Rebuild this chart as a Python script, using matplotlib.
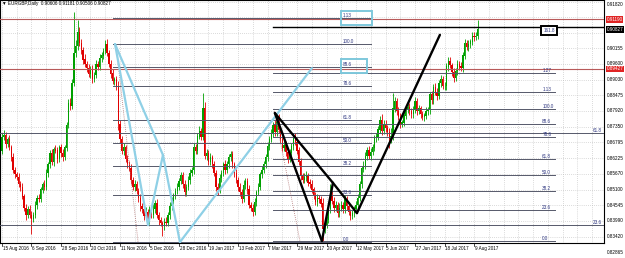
import numpy as np
import matplotlib
matplotlib.use("Agg")
import matplotlib.pyplot as plt
from matplotlib.patches import Rectangle
from matplotlib.transforms import blended_transform_factory

# ---- daily EURGBP candles ----
first_open = 0.8650
closes = [
    # 15 Aug 2016
    0.8697, 0.8706, 0.8672, 0.8690, 0.8662, 0.8625, 0.8580, 0.8565, 0.8555, 0.8530, 0.8520, 0.8485, 0.8445, 0.8418, 0.8440, 0.8420,
    # 6 Sep 2016
    0.8405, 0.8420, 0.8455, 0.8480, 0.8475, 0.8510, 0.8530, 0.8520, 0.8570, 0.8600, 0.8640, 0.8610, 0.8655, 0.8650, 0.8620, 0.8660,
    # 28 Sep 2016
    0.8640, 0.8625, 0.8660, 0.8740, 0.8820, 0.8810, 0.8890, 0.9000, 0.9025, 0.9075, 0.9035, 0.9010, 0.8975, 0.8960, 0.8945, 0.8925,
    # 20 Oct 2016
    0.8940, 0.8905, 0.8920, 0.8960, 0.8950, 0.8980, 0.8990, 0.9005, 0.9030, 0.9000, 0.8960, 0.8925, 0.8900, 0.8905, 0.8880, 0.8745,
    # 11 Nov 2016
    0.8690, 0.8650, 0.8660, 0.8620, 0.8600, 0.8585, 0.8545, 0.8520, 0.8530, 0.8505, 0.8480, 0.8450, 0.8440, 0.8415, 0.8430, 0.8400,
    # 5 Dec 2016
    0.8435, 0.8420, 0.8440, 0.8460, 0.8420, 0.8400, 0.8390, 0.8380, 0.8395, 0.8390, 0.8420, 0.8450, 0.8470, 0.8490, 0.8505, 0.8520,
    # 28 Dec 2016
    0.8540, 0.8560, 0.8530, 0.8500, 0.8520, 0.8545, 0.8570, 0.8580, 0.8660, 0.8650, 0.8700, 0.8720, 0.8700, 0.8800, 0.8630, 0.8640,
    # 19 Jan 2017
    0.8610, 0.8625, 0.8600, 0.8570, 0.8520, 0.8510, 0.8550, 0.8570, 0.8600, 0.8580, 0.8600, 0.8625, 0.8635, 0.8600, 0.8570, 0.8545,
    # 13 Feb 2017
    0.8520, 0.8500, 0.8475, 0.8525, 0.8540, 0.8510, 0.8455, 0.8445, 0.8430, 0.8465, 0.8500, 0.8520, 0.8565, 0.8580, 0.8600, 0.8625,
    # 7 Mar 2017
    0.8665, 0.8690, 0.8710, 0.8740, 0.8715, 0.8770, 0.8725, 0.8690, 0.8660, 0.8670, 0.8645, 0.8620, 0.8640, 0.8665, 0.8700, 0.8680,
    # 29 Mar 2017
    0.8650, 0.8610, 0.8560, 0.8545, 0.8555, 0.8560, 0.8535, 0.8530, 0.8510, 0.8490, 0.8465, 0.8480, 0.8475, 0.8460, 0.8370, 0.8385,
    # 20 Apr 2017
    0.8400, 0.8440, 0.8490, 0.8470, 0.8445, 0.8455, 0.8425, 0.8445, 0.8455, 0.8440, 0.8475, 0.8450, 0.8430, 0.8415, 0.8425, 0.8440,
    # 12 May 2017
    0.8455, 0.8480, 0.8530, 0.8585, 0.8595, 0.8630, 0.8650, 0.8630, 0.8645, 0.8660, 0.8695, 0.8700, 0.8725, 0.8760, 0.8720, 0.8745,
    # 5 Jun 2017
    0.8730, 0.8715, 0.8690, 0.8700, 0.8800, 0.8825, 0.8790, 0.8770, 0.8745, 0.8750, 0.8775, 0.8795, 0.8805, 0.8790, 0.8780, 0.8795,
    # 27 Jun 2017
    0.8825, 0.8790, 0.8800, 0.8780, 0.8770, 0.8775, 0.8790, 0.8795, 0.8850, 0.8830, 0.8875, 0.8860, 0.8845, 0.8890, 0.8905, 0.8880,
    # 18 Jul 2017
    0.8880, 0.8950, 0.8970, 0.8955, 0.8930, 0.8910, 0.8935, 0.8960, 0.8950, 0.8945, 0.8990, 0.9035, 0.9020, 0.9030, 0.9040, 0.9060,
    # 9 Aug 2017
    0.9055, 0.90606, 0.90827,
]
# wick lengths in pips above / below the body
up_pips = [
    15, 19, 12, 10, 14, 9, 16, 11, 8, 13, 10, 12, 9, 14, 11, 15,
    12, 10, 16, 9, 14, 11, 8, 15, 13, 10, 12, 17, 9, 14, 11, 10,
    13, 16, 9, 12, 14, 18, 15, 145, 22, 43, 18, 15, 12, 20, 11, 14,
    12, 15, 10, 13, 9, 14, 11, 12, 15, 18, 10, 13, 16, 9, 12, 20,
    14, 12, 18, 10, 13, 11, 15, 9, 16, 12, 10, 14, 11, 13, 17, 10,
    15, 12, 20, 14, 18, 11, 13, 9, 12, 16, 10, 14, 12, 9, 11, 13,
    10, 14, 12, 16, 11, 13, 15, 10, 18, 12, 14, 16, 12, 55, 25, 14,
    12, 16, 10, 14, 11, 13, 15, 12, 10, 16, 13, 11, 15, 12, 10, 14,
    11, 15, 12, 18, 10, 13, 16, 11, 12, 14, 10, 13, 9, 15, 12, 11,
    14, 12, 16, 13, 20, 17, 12, 14, 11, 15, 13, 10, 16, 12, 14, 11,
    15, 12, 14, 10, 13, 16, 11, 12, 14, 10, 13, 15, 11, 12, 20, 16,
    14, 18, 40, 15, 12, 14, 10, 16, 13, 11, 15, 12, 14, 10, 13, 12,
    15, 13, 12, 10, 18, 14, 11, 16, 13, 12, 10, 14, 12, 15, 20, 13,
    14, 12, 15, 30, 55, 18, 12, 14, 16, 11, 13, 12, 10, 15, 12, 14,
    16, 12, 14, 10, 13, 11, 15, 12, 10, 14, 12, 16, 13, 11, 15, 12,
    14, 12, 16, 13, 10, 15, 12, 14, 11, 16, 13, 15, 12, 14, 10, 15,
    14, 12, 35.4,
]
down_pips = [
    12, 10, 14, 11, 9, 13, 12, 15, 10, 11, 14, 9, 12, 16, 10, 13,
    55, 12, 10, 14, 11, 9, 13, 12, 10, 15, 11, 12, 14, 10, 13, 11,
    12, 14, 10, 13, 11, 15, 12, 10, 16, 14, 12, 13, 15, 11, 14, 12,
    14, 15, 11, 12, 13, 10, 14, 12, 11, 13, 12, 15, 11, 14, 12, 20,
    14, 12, 15, 11, 13, 10, 16, 12, 14, 11, 13, 15, 12, 14, 11, 15,
    13, 12, 11, 14, 12, 15, 10, 35, 13, 12, 11, 14, 12, 10, 13, 12,
    12, 11, 14, 13, 12, 10, 14, 12, 13, 11, 12, 10, 14, 13, 12, 14,
    13, 12, 14, 11, 15, 20, 12, 13, 11, 14, 12, 13, 11, 12, 14, 13,
    14, 12, 13, 11, 12, 15, 12, 11, 13, 12, 14, 11, 12, 13, 11, 12,
    12, 14, 11, 13, 12, 12, 14, 13, 11, 12, 14, 13, 12, 11, 13, 12,
    13, 12, 14, 11, 12, 13, 11, 14, 12, 13, 11, 12, 14, 12, 50, 14,
    12, 11, 13, 12, 14, 11, 13, 12, 11, 14, 12, 13, 12, 14, 11, 12,
    12, 14, 11, 13, 12, 11, 14, 12, 13, 11, 12, 14, 11, 12, 13, 12,
    13, 12, 30, 12, 14, 11, 13, 12, 14, 11, 12, 13, 11, 12, 13, 12,
    12, 13, 11, 14, 12, 13, 11, 12, 14, 12, 13, 11, 14, 12, 13, 11,
    12, 13, 14, 11, 12, 13, 11, 14, 12, 11, 13, 12, 11, 14, 12, 13,
    12, 11, 10,
]

date_labels = ["15 Aug 2016", "6 Sep 2016", "28 Sep 2016", "20 Oct 2016", "11 Nov 2016",
               "5 Dec 2016", "28 Dec 2016", "19 Jan 2017", "13 Feb 2017", "7 Mar 2017",
               "29 Mar 2017", "20 Apr 2017", "12 May 2017", "5 Jun 2017", "27 Jun 2017",
               "18 Jul 2017", "9 Aug 2017"]
bars_per_label = 16

price_ticks = [0.91820, 0.91265, 0.90710, 0.90155, 0.89600, 0.89030, 0.88475, 0.87920,
               0.87350, 0.86795, 0.86225, 0.85670, 0.85100, 0.84545, 0.83990, 0.83420, 0.82865]
hidden_ticks = [0.91265, 0.90710]

hlines_red = [0.91190, 0.89427]
bid = 0.90827
header = "\u25bc EURGBP,Daily  0.90606 0.91181 0.90506 0.90827"

# harmonic patterns (bar index, price)
blue_pts = {"X": (61.3, 0.9031), "A": (79.2, 0.8383), "B": (87.3, 0.8634),
            "C": (96.5, 0.8322), "D": (168.1, 0.8945)}
blue_legs = [("X", "A"), ("A", "B"), ("X", "B"), ("B", "C"), ("C", "D")]
black_pts = {"X": (148.0, 0.8784), "A": (173.5, 0.8326), "B": (179.5, 0.8534),
             "C": (192.5, 0.8426), "D": (237.5, 0.9064)}
black_legs = [("X", "A"), ("A", "B"), ("X", "B"), ("B", "C"), ("C", "D")]

# fibonacci retracements: (bar, price) of 100% and 0% anchors, line span, label bar
fib_a = dict(p100=(61.8, 0.9031), p0=(73.8, 0.8322), x0=60.2, x1=200, xlab=185,
             levels=[0.0, 0.236, 0.382, 0.5, 0.618, 0.786, 0.886, 1.0, 1.13],
             labels=["0.0", "23.6", "38.2", "50.0", "61.8", "78.6", "88.6", "100.0", "1.13"])
fib_b = dict(p100=(147.5, 0.8799), p0=(161.6, 0.8326), x0=147.0, x1=300, xlab=293,
             levels=[0.0, 0.236, 0.382, 0.5, 0.618, 0.786, 0.886, 1.0, 1.13, 1.27],
             labels=["0.0", "23.6", "38.2", "50.0", "61.8", "78.6", "88.6", "100.0", "1.13", "1.27"])
fib_b_ext = 1.618
far_levels = [0.8713, 0.8383]
far_labels = ["61.8", "23.6"]

cyan_boxes = [(183.8, 200.6, 0.9099, 0.9149), (183.8, 198.0, 0.8927, 0.8978)]
black_box = (292.3, 301.0, 0.9063, 0.9096)

# ---- figure ----
W, H = 625, 258
fig = plt.figure(figsize=(W / 100, H / 100), dpi=100)
fig.patch.set_facecolor("white")
ax = fig.add_axes([0, 15 / H, 604 / W, 243 / H])
ax.set_xlim(-1.08, 326.5)
ax.set_ylim(0.83189, 0.91888)
ax.set_xticks([])
ax.set_yticks([])
for s in ax.spines.values():
    s.set_color("black")
    s.set_linewidth(0.8)

fs = 3.3
fnt = "Liberation Sans"
grid_kw = dict(color="#b8b8b8", lw=0.5, linestyle=(0, (1, 2)), zorder=0)

# grid
for p in price_ticks:
    ax.axhline(p, **grid_kw)
for k in range(0, 330, 8):
    ax.axvline(k, **grid_kw)

# candles
closes = np.array(closes)
opens = np.concatenate([[first_open], closes[:-1]])
highs = np.maximum(opens, closes) + np.array(up_pips) / 10000
lows = np.minimum(opens, closes) - np.array(down_pips) / 10000
idx = np.arange(len(closes))
cols = np.where(closes >= opens, "#00a000", "#e00000")
ax.vlines(idx, lows, highs, colors=cols, lw=0.6, zorder=2)
ax.bar(idx, np.abs(closes - opens) + 0.00008, bottom=np.minimum(opens, closes),
       width=0.7, color=cols, linewidth=0, zorder=3)

# horizontal lines
for p in hlines_red:
    ax.axhline(p, color="#b85a5a", lw=0.8, zorder=4)

fib_col = "#55586a"
lab_col = "#2e3680"


def draw_fib(f, ext=None):
    (xa, pa), (xb, pb) = f["p100"], f["p0"]
    ax.plot([xa, xb], [pa, pb], color="#b07070", lw=0.6, linestyle=(0, (1, 1.5)), zorder=4)
    for lv, lab in zip(f["levels"], f["labels"]):
        p = pb + lv * (pa - pb)
        ax.plot([f["x0"], f["x1"]], [p, p], color=fib_col, lw=0.7, zorder=4)
        ax.text(f["xlab"], p, lab, fontsize=fs, family=fnt, color=lab_col,
                ha="left", va="bottom", zorder=6)
    if ext is not None:
        p = pb + ext * (pa - pb)
        ax.plot([f["x0"], f["x1"] + 26], [p, p], color="black", lw=1.0, zorder=4)


draw_fib(fib_a)
draw_fib(fib_b, fib_b_ext)

for p, lab in zip(far_levels, far_labels):
    ax.axhline(p, color=fib_col, lw=0.7, zorder=4)
    ax.text(325.5, p, lab, fontsize=fs, family=fnt, color=lab_col, ha="right", va="bottom", zorder=6)

# boxes around selected levels
for x0, x1, p0, p1 in cyan_boxes:
    ax.add_patch(Rectangle((x0, p0), x1 - x0, p1 - p0, fill=False,
                           edgecolor="#7ec8dc", lw=1.4, zorder=7))
bx0, bx1, bp0, bp1 = black_box
ax.add_patch(Rectangle((bx0, bp0), bx1 - bx0, bp1 - bp0, facecolor="white",
                       edgecolor="black", lw=1.4, zorder=7))
ax.text((bx0 + bx1) / 2, (bp0 + bp1) / 2, "161.8", fontsize=fs, family=fnt,
        color=lab_col, ha="center", va="center", zorder=8)

# patterns
for a, b in blue_legs:
    (x1, y1), (x2, y2) = blue_pts[a], blue_pts[b]
    ax.plot([x1, x2], [y1, y2], color="#8fd0e6", lw=1.6, zorder=5, solid_capstyle="round")
for a, b in black_legs:
    (x1, y1), (x2, y2) = black_pts[a], black_pts[b]
    ax.plot([x1, x2], [y1, y2], color="black", lw=1.7, zorder=5, solid_capstyle="round")

# header
ax.text(0.004, 0.995, header, transform=ax.transAxes, fontsize=fs, family=fnt,
        color="black", ha="left", va="top", zorder=9)

# price axis
tr_y = blended_transform_factory(ax.transAxes, ax.transData)
for p in price_ticks:
    if p in hidden_ticks:
        continue
    va = "top" if p > 0.9175 else "center"
    ax.text(1.004, p, f"{p:.5f}", transform=tr_y, fontsize=fs, family=fnt,
            color="black", ha="left", va=va, clip_on=False)
for p in hlines_red:
    ax.text(1.004, p, f"{p:.5f}", transform=tr_y, fontsize=fs, family=fnt, color="white",
            ha="left", va="center", clip_on=False,
            bbox=dict(facecolor="#e02424", edgecolor="none", pad=0.5))
ax.text(1.004, bid, f"{bid:.5f}", transform=tr_y, fontsize=fs, family=fnt, color="white",
        ha="left", va="center", clip_on=False,
        bbox=dict(facecolor="black", edgecolor="none", pad=0.5))

# date axis
tr_x = blended_transform_factory(ax.transData, ax.transAxes)
for k, lab in enumerate(date_labels):
    xb = k * bars_per_label
    ax.plot([xb, xb], [0, -0.012], transform=tr_x, color="black", lw=0.5, clip_on=False)
    ax.text(xb + 0.4, -0.012, lab, transform=tr_x, fontsize=fs, family=fnt,
            color="black", ha="left", va="top", clip_on=False)

fig.savefig("out.png", dpi=100, facecolor="white")
